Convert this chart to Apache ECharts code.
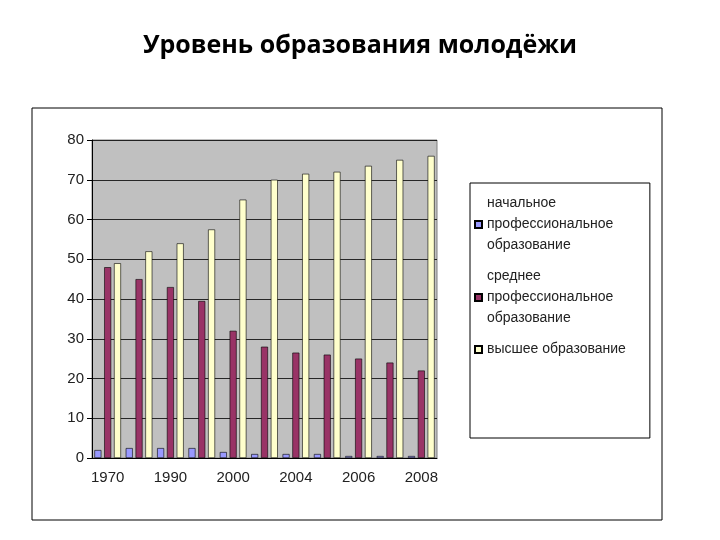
<!DOCTYPE html>
<html>
<head>
<meta charset="utf-8">
<script src="https://cdn.jsdelivr.net/npm/echarts@6/dist/echarts.min.js"></script>
<style>body{margin:0;background:#fff}</style>
</head>
<body>
<div id="main" style="width:720px;height:540px;"></div>
<script>
// годы
var years = ['1970','1980','1990','1995','2000','2002','2004','2005','2006','2007','2008'];
var nachalnoe = [2, 2.5, 2.5, 2.5, 1.5, 1, 1, 1, 0.5, 0.5, 0.5];
var srednee = [48, 45, 43, 39.5, 32, 28, 26.5, 26, 25, 24, 22];
var vysshee = [49, 52, 54, 57.5, 65, 70, 71.5, 72, 73.5, 75, 76];
var names = ['начальное\nпрофессиональное\nобразование', 'среднее\nпрофессиональное\nобразование', 'высшее образование'];

var chart = echarts.init(document.getElementById('main'));
function bar(name, data, color) {
    return {
        name: name, type: 'bar', data: data, barWidth: 7, barGap: '40%',
        itemStyle: {color: color, borderColor: '#000', borderWidth: 0.6}
    };
}
chart.setOption({
    animation: false,
    textStyle: {fontFamily: 'Liberation Sans'},
    title: {
        text: 'Уровень образования молодёжи', left: 'center', top: 28,
        textStyle: {fontFamily: 'Open Sans', fontSize: 25, fontWeight: 'bold', color: '#000'}
    },
    graphic: [{type: 'rect', shape: {x: 32, y: 108, width: 630, height: 412},
        style: {fill: 'none', stroke: '#000', lineWidth: 1}}],
    grid: {left: 92, right: 283, top: 140, bottom: 82, backgroundColor: '#c0c0c0', show: true, borderColor: '#808080'},
    legend: {
        orient: 'vertical', left: 470, top: 183, width: 185, itemWidth: 7, itemHeight: 7, itemGap: 10,
        padding: [10, 24, 78, 4], borderColor: '#000', borderWidth: 1, backgroundColor: '#fff',
        textStyle: {fontSize: 14, color: '#222', lineHeight: 21}, icon: 'rect'
    },
    xAxis: {
        type: 'category', data: years,
        axisLine: {lineStyle: {color: '#000'}}, axisTick: {show: false},
        axisLabel: {interval: 1, fontSize: 15, color: '#222', margin: 12}
    },
    yAxis: {
        type: 'value', min: 0, max: 80, interval: 10,
        axisLine: {show: true, lineStyle: {color: '#000'}}, axisTick: {show: true},
        axisLabel: {fontSize: 15, color: '#222'},
        splitLine: {lineStyle: {color: '#000', width: 0.8}}
    },
    series: [
        bar(names[0], nachalnoe, '#9999ff'),
        bar(names[1], srednee, '#993366'),
        bar(names[2], vysshee, '#ffffcc')
    ]
});
</script>
</body>
</html>
